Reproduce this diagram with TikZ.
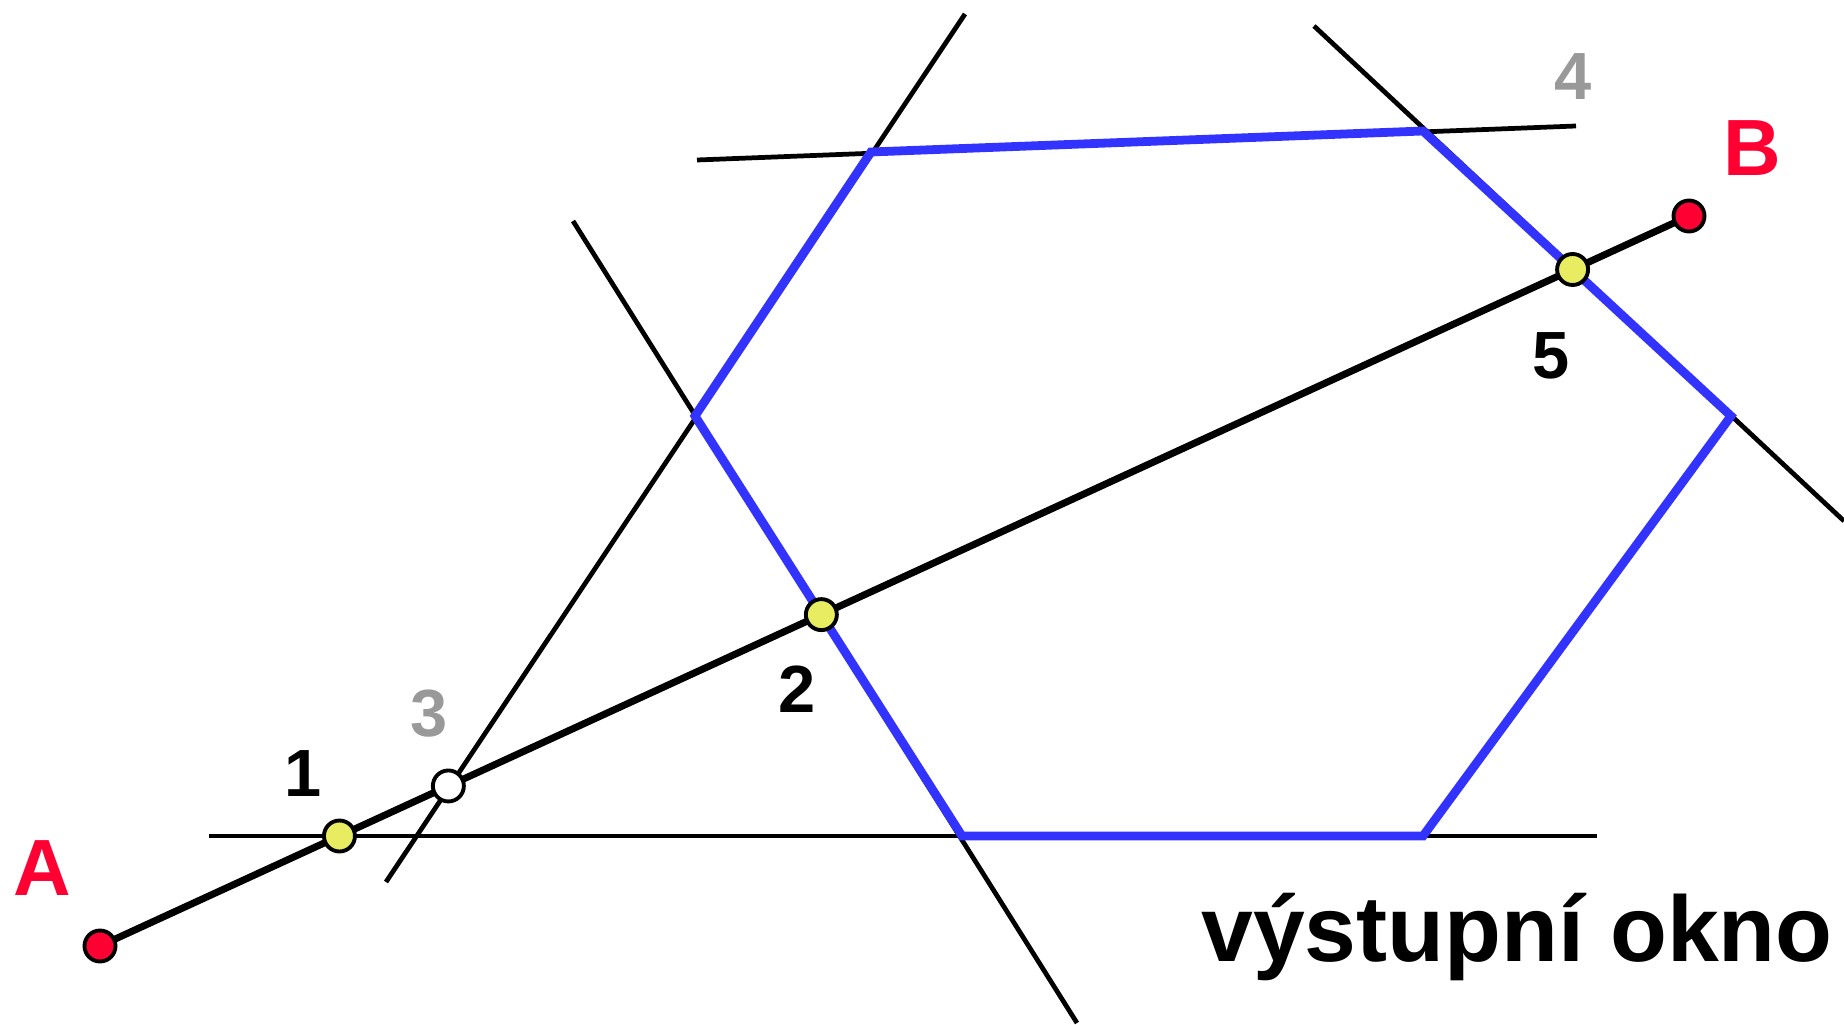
\documentclass[tikz,border=0pt]{standalone}
\usepackage{fontspec}
\setmainfont{Liberation Sans}
\usepackage{tikz}
\definecolor{ptred}{HTML}{FF0033}
\definecolor{winblue}{HTML}{3333FF}
\definecolor{ptyellow}{HTML}{E8EC60}
\definecolor{lblgray}{HTML}{999999}

\begin{document}
\begin{tikzpicture}[x=1cm,y=1cm,line width=1.35pt,
  winedge/.style={line width=2.5pt,draw=winblue,line join=miter},
  abseg/.style={line width=2pt},
  ptdot/.style={circle,draw,line width=1.1pt,minimum size=0.31cm,inner sep=0pt},
  numlbl/.style={font=\fontsize{19}{19}\selectfont\bfseries,inner sep=0pt},
  endlbl/.style={font=\fontsize{22.7}{23}\selectfont\bfseries,text=ptred,inner sep=0pt}]
\useasboundingbox (0,0) rectangle (18.44,10.24);
% vrcholy okna
\coordinate (w1) at (8.71,8.72);
\coordinate (w2) at (14.23,8.93);
\coordinate (w3) at (17.31,6.08);
\coordinate (w4) at (14.23,1.88);
\coordinate (w5) at (9.62,1.88);
\coordinate (w6) at (6.95,6.08);
% konce hranicnich primek
\coordinate (t1) at (6.97,8.64);
\coordinate (t2) at (15.76,8.98);
\coordinate (l1) at (9.65,10.10);
\coordinate (l2) at (3.86,1.42);
\coordinate (r1) at (13.14,9.98);
\coordinate (r2) at (18.44,5.03);
\coordinate (d1) at (5.73,8.03);
\coordinate (d2) at (10.77,0.01);
\coordinate (b1) at (2.09,1.88);
\coordinate (b2) at (15.97,1.88);
\coordinate (A) at (1.00,0.78);
\coordinate (B) at (16.89,8.08);
\draw (t1)--(t2);
\draw (l1)--(l2);
\draw (r1)--(r2);
\draw (d1)--(d2);
\draw (b1)--(b2);
\draw[winedge] (w1)--(w2)--(w3)--(w4)--(w5)--(w6)--cycle;
\draw[abseg] (A)--(B);
\node[ptdot,fill=ptred] (pA) at (A) {};
\node[ptdot,fill=ptred] (pB) at (B) {};
\node[ptdot,fill=ptyellow] (p1) at (intersection of A--B and b1--b2) {};
\node[ptdot,fill=ptyellow] (p2) at (intersection of A--B and w6--w5) {};
\node[ptdot,fill=white] (p3) at (intersection of A--B and w1--w6) {};
\node[ptdot,fill=ptyellow] (p5) at (intersection of A--B and w2--w3) {};
\node[endlbl] (lA) at (0.42,1.56) {A};
\node[endlbl] (lB) at (17.52,8.76) {B};
\node[numlbl] (n1) at (3.03,2.50) {1};
\node[numlbl] (n2) at (7.97,3.35) {2};
\node[numlbl,text=lblgray] (n3) at (4.29,3.10) {3};
\node[numlbl,text=lblgray] (n4) at (15.73,9.47) {4};
\node[numlbl] (n5) at (15.51,6.68) {5};
\node[anchor=base west,inner sep=0pt,font=\fontsize{26.5}{27}\selectfont\bfseries] (okno) at (11.99,0.63) {výstupní okno};
\end{tikzpicture}
\end{document}
